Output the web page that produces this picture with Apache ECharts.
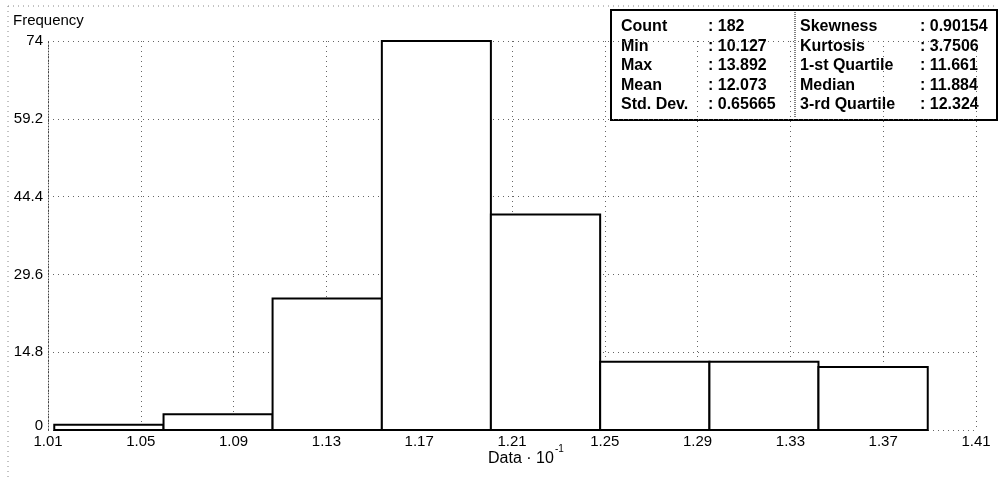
<!DOCTYPE html>
<html>
<head>
<meta charset="utf-8">
<script src="https://cdn.jsdelivr.net/npm/echarts@6/dist/echarts.min.js"></script>
<style>
html,body{margin:0;padding:0;background:#fff;}
#chart{width:998px;height:477px;}
</style>
</head>
<body>
<div id="chart"></div>
<script>
// ---- data ----
const binEdges = [1.0127, 1.0598, 1.1068, 1.1539, 1.2009, 1.2480, 1.2951, 1.3421, 1.3892];
const counts = [1, 3, 25, 74, 41, 13, 13, 12];
const xMin = 1.01, xMax = 1.41, xStep = 0.04;
const yMax = 74, yStep = 14.8;
const yTitle = 'Frequency';
const xTitle = 'Data · 10';
const xTitleExp = '-1';
const statLabelsLeft = ['Count', 'Min', 'Max', 'Mean', 'Std. Dev.'];
const statValuesLeft = ['182', '10.127', '13.892', '12.073', '0.65665'];
const statLabelsRight = ['Skewness', 'Kurtosis', '1-st Quartile', 'Median', '3-rd Quartile'];
const statValuesRight = ['0.90154', '3.7506', '11.661', '11.884', '12.324'];

// axis values are offsets from xMin so the ticks start at 0 (a multiple of the interval)
const histData = counts.map((c, i) => [binEdges[i] - xMin, binEdges[i + 1] - xMin, c]);

const FONT = '"Liberation Sans", Arial, sans-serif';
const chart = echarts.init(document.getElementById('chart'), null, {renderer: 'canvas'});

const boxX = 611, boxY = 10, boxW = 386, boxH = 110, divX = 795;
const rowTop = [19, 38.5, 58, 77.5, 97];
const statTexts = [];
for (let i = 0; i < 5; i++) {
  const st = {fill: '#000', font: 'bold 16px ' + FONT, verticalAlign: 'top', align: 'left'};
  statTexts.push({type: 'text', x: 621, y: rowTop[i], style: Object.assign({text: statLabelsLeft[i]}, st)});
  statTexts.push({type: 'text', x: 708, y: rowTop[i], style: Object.assign({text: ': ' + statValuesLeft[i]}, st)});
  statTexts.push({type: 'text', x: 800, y: rowTop[i], style: Object.assign({text: statLabelsRight[i]}, st)});
  statTexts.push({type: 'text', x: 920, y: rowTop[i], style: Object.assign({text: ': ' + statValuesRight[i]}, st)});
}

const option = {
  animation: false,
  backgroundColor: '#fff',
  grid: {left: 48, right: 22, top: 41, bottom: 47},
  xAxis: {
    type: 'value', min: 0, max: xMax - xMin, interval: xStep,
    axisLine: {show: false}, axisTick: {show: false},
    axisLabel: {
      margin: 4, color: '#000', fontFamily: FONT, fontSize: 15,
      formatter: v => (v + xMin).toFixed(2)
    },
    splitLine: {show: true, lineStyle: {color: '#666', width: 1, type: [1, 4]}}
  },
  yAxis: {
    type: 'value', min: 0, max: yMax, interval: yStep,
    axisLine: {show: true, lineStyle: {color: '#444', width: 1, type: [1, 2]}},
    axisTick: {show: false},
    axisLabel: {
      margin: 5, color: '#000', fontFamily: FONT, fontSize: 15,
      formatter: v => {
        const s = String(Math.round(v * 10) / 10);
        return v === 0 ? '{z|' + s + '}' : s;
      },
      rich: {z: {fontFamily: FONT, fontSize: 15, color: '#000', padding: [0, 0, 8, 0]}}
    },
    splitLine: {show: true, lineStyle: {color: '#666', width: 1, type: [1, 4]}}
  },
  series: [{
    type: 'custom',
    data: histData,
    encode: {x: [0, 1], y: 2},
    clip: false,
    z: 5,
    renderItem: function (params, api) {
      const a = api.coord([api.value(0), api.value(2)]);
      const b = api.coord([api.value(1), 0]);
      return {
        type: 'rect',
        shape: {x: a[0], y: a[1], width: b[0] - a[0], height: b[1] - a[1]},
        style: {fill: '#fff', stroke: '#000', lineWidth: 2}
      };
    }
  }],
  graphic: [
    {type: 'line', shape: {x1: 8, y1: 6, x2: 998, y2: 6}, style: {stroke: '#888', lineWidth: 1, lineDash: [1, 4]}, z: 1},
    {type: 'line', shape: {x1: 8, y1: 6, x2: 8, y2: 477}, style: {stroke: '#888', lineWidth: 1, lineDash: [1, 4]}, z: 1},
    {type: 'text', x: 13, y: 13, style: {text: yTitle, fill: '#000', font: '15px ' + FONT, verticalAlign: 'top'}, z: 10},
    {type: 'text', x: 488, y: 451, style: {text: xTitle, fill: '#000', font: '16px ' + FONT, verticalAlign: 'top'}, z: 10},
    {type: 'text', x: 555, y: 444, style: {text: xTitleExp, fill: '#000', font: '10px ' + FONT, verticalAlign: 'top'}, z: 10},
    {type: 'group', z: 20, children: [
      {type: 'rect', shape: {x: boxX, y: boxY, width: boxW, height: boxH}, style: {fill: '#fff', stroke: '#000', lineWidth: 2}},
      {type: 'line', shape: {x1: divX, y1: boxY + 2, x2: divX, y2: boxY + boxH - 2}, style: {stroke: '#000', lineWidth: 1, lineDash: [1, 1]}}
    ].concat(statTexts)}
  ]
};
chart.setOption(option);
</script>
</body>
</html>
